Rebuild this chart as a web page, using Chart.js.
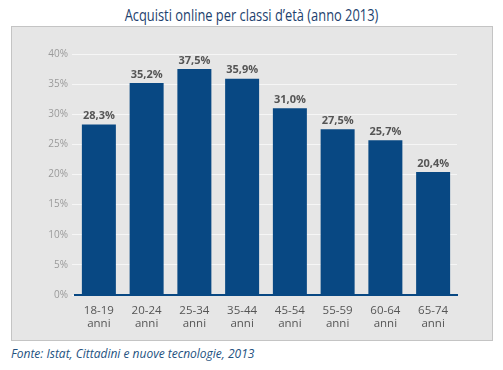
<!DOCTYPE html>
<html>
<head>
<meta charset="utf-8">
<script src="https://cdn.jsdelivr.net/npm/chart.js@4/dist/chart.umd.min.js"></script>
<style>
  body { margin: 0; width: 503px; height: 370px; background: #fff; position: relative; overflow: hidden; }
  #title { position: absolute; left: 0; width: 503px; top: 4px; text-align: center; font-family: "Open Sans", sans-serif; font-size: 15.5px; color: #1d3f6e; transform: scaleX(0.83); }
  #panel { position: absolute; left: 11px; top: 26px; width: 480px; height: 313px; background: #e6e6e6; border: 1px solid #c4c4c4; }
  #source { position: absolute; left: 11px; top: 345px; font-family: "Open Sans", sans-serif; font-style: italic; font-size: 12px; color: #24527f; }
</style>
</head>
<body>
<div id="title">Acquisti online per classi d’età (anno 2013)</div>
<div id="panel"><canvas id="chart" width="480" height="313"></canvas></div>
<div id="source">Fonte: Istat, Cittadini e nuove tecnologie, 2013</div>
<script>
document.addEventListener('DOMContentLoaded', () => {
  const ageGroups = [['18-19', 'anni'], ['20-24', 'anni'], ['25-34', 'anni'], ['35-44', 'anni'],
                     ['45-54', 'anni'], ['55-59', 'anni'], ['60-64', 'anni'], ['65-74', 'anni']];
  const shares = [28.3, 35.2, 37.5, 35.9, 31.0, 27.5, 25.7, 20.4];
  const yTicks = [0, 5, 10, 15, 20, 25, 30, 35, 40];

  const barBlue = '#084883';
  const labelFont = '"Open Sans", sans-serif';

  // etichette sopra le barre
  const valueLabels = {
    id: 'valueLabels',
    afterDatasetsDraw(chart) {
      const ctx = chart.ctx;
      const meta = chart.getDatasetMeta(0);
      ctx.save();
      ctx.font = 'bold 11px ' + labelFont;
      ctx.fillStyle = '#555555';
      ctx.textAlign = 'center';
      ctx.textBaseline = 'bottom';
      meta.data.forEach((bar, i) => {
        ctx.fillText(shares[i].toFixed(1).replace('.', ',') + '%', bar.x, bar.y - 3);
      });
      ctx.restore();
    }
  };

  new Chart(document.getElementById('chart'), {
    type: 'bar',
    data: {
      labels: ageGroups,
      datasets: [{
        data: shares,
        backgroundColor: barBlue,
        barPercentage: 0.8,
        categoryPercentage: 0.89
      }]
    },
    options: {
      responsive: false,
      animation: false,
      layout: { padding: { top: 27, right: 35, left: 0, bottom: 0 } },
      plugins: { legend: { display: false }, tooltip: { enabled: false } },
      scales: {
        x: {
          grid: { display: false },
          border: { color: barBlue, width: 2 },
          ticks: { color: '#555555', font: { family: labelFont, size: 11.5, lineHeight: 1.15 }, padding: 1, maxRotation: 0 },
          afterFit: s => { s.height = 45; }
        },
        y: {
          min: 0,
          max: 40,
          afterBuildTicks: s => { s.ticks = yTicks.map(v => ({ value: v })); },
          grid: { color: '#f6f6f6', lineWidth: 1, tickLength: 3 },
          border: { display: false },
          ticks: { color: '#9a9a9a', font: { family: labelFont, size: 10 }, padding: 4, callback: v => v + '%' },
          afterFit: s => { s.width = 63; }
        }
      }
    },
    plugins: [valueLabels]
  });
});
</script>
</body>
</html>
